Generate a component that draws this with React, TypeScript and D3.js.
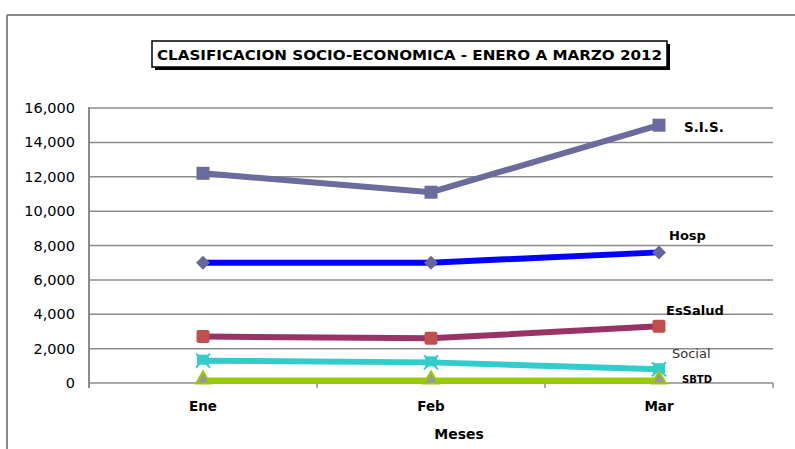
import React from "react";
import * as d3 from "d3";

const months = ["Ene", "Feb", "Mar"];
const sis = [12200, 11100, 15000];
const hosp = [7000, 7000, 7600];
const essalud = [2700, 2600, 3300];
const social = [1300, 1200, 800];
const sbtd = [150, 150, 150];
const yTicks = [0, 2000, 4000, 6000, 8000, 10000, 12000, 14000, 16000];

const W = 795, H = 449;
const left = 89, right = 773, top = 108, bottom = 383;

export default function App() {
  const x = d3.scaleBand().domain(months).range([left, right]);
  const cx = (m: string) => (x(m) as number) + x.bandwidth() / 2;
  const y = d3.scaleLinear().domain([0, 16000]).range([bottom, top]);
  const fmt = d3.format(",");
  const line = d3.line<number>().x((_, i) => cx(months[i])).y((v) => y(v));

  const series = [
    { name: "S.I.S.", data: sis, color: "#6B6B9E", marker: "square", mcolor: "#6B6B9E" },
    { name: "Hosp", data: hosp, color: "#0000FF", marker: "diamond", mcolor: "#66669A" },
    { name: "EsSalud", data: essalud, color: "#993366", marker: "square", mcolor: "#C0504D" },
    { name: "Social", data: social, color: "#33CCCC", marker: "star", mcolor: "#33CCCC" },
    { name: "SBTD", data: sbtd, color: "#99CC00", marker: "triangle", mcolor: "#999999" },
  ];

  const marker = (s: any, v: number, i: number) => {
    const px = cx(months[i]);
    const py = y(v);
    const key = s.name + i;
    if (s.marker === "square")
      return <rect key={key} x={px - 6.5} y={py - 6.5} width={13} height={13} rx={s.name === "EsSalud" ? 2 : 0} fill={s.mcolor} />;
    if (s.marker === "diamond")
      return <path key={key} d={`M${px},${py - 7}L${px + 7},${py}L${px},${py + 7}L${px - 7},${py}Z`} fill={s.mcolor} />;
    if (s.marker === "star")
      return (
        <g key={key}>
          <rect x={px - 6} y={py - 6} width={12} height={10} fill={s.mcolor} />
          <path d={`M${px - 7},${py - 7}L${px + 7},${py + 7}M${px + 7},${py - 7}L${px - 7},${py + 7}`} stroke={s.mcolor} strokeWidth={2} />
        </g>
      );
    return (
      <path key={key} d={`M${px},${py - 9}L${px + 7},${py + 3}L${px - 7},${py + 3}Z`} fill={s.mcolor} stroke="#99CC00" strokeWidth={2} />
    );
  };

  const labels = [
    { text: "S.I.S.", x: 684, y: 132, bold: true, size: 13.5 },
    { text: "Hosp", x: 669, y: 240, bold: true, size: 13 },
    { text: "EsSalud", x: 666, y: 315, bold: true, size: 13 },
    { text: "Social", x: 672, y: 358, bold: false, size: 13 },
    { text: "SBTD", x: 682, y: 383, bold: true, size: 10 },
  ];

  return (
    <svg width={W} height={H} style={{ position: "absolute", left: 0, top: 0, background: "#fff" }}>
      <rect x={0} y={0} width={W} height={H} fill="#fff" />
      <line x1={7} y1={15} x2={W} y2={15} stroke="#888" strokeWidth={2} />
      <line x1={7} y1={15} x2={7} y2={H} stroke="#888" strokeWidth={2} />

      {/* title */}
      <rect x={155} y={44} width={515} height={26} fill="#000" />
      <rect x={152} y={41} width={515} height={26} fill="#fff" stroke="#000" strokeWidth={1.5} />
      <text x={157} y={60} textLength={505} lengthAdjust="spacingAndGlyphs" fontFamily="DejaVu Sans, Verdana" fontWeight="bold" fontSize={14} fill="#000">
        CLASIFICACION SOCIO-ECONOMICA - ENERO A MARZO 2012
      </text>

      {/* grid */}
      {yTicks.map((t) => (
        <g key={t}>
          <line x1={left} x2={right} y1={y(t)} y2={y(t)} stroke="#8c8c8c" strokeWidth={1.5} />
          <text x={75} y={y(t) + 5} textAnchor="end" fontFamily="DejaVu Sans, Verdana" fontSize={14.5} fill="#000">
            {fmt(t)}
          </text>
        </g>
      ))}
      <line x1={left} x2={left} y1={top - 1} y2={bottom + 5} stroke="#8c8c8c" strokeWidth={2} />
      {[1, 2, 3].map((k) => {
        const tx = left + k * x.bandwidth();
        return <line key={k} x1={tx} x2={tx} y1={bottom} y2={bottom + 5} stroke="#8c8c8c" strokeWidth={1.5} />;
      })}

      {months.map((m) => (
        <text key={m} x={cx(m)} y={411} textAnchor="middle" fontFamily="DejaVu Sans, Verdana" fontWeight="bold" fontSize={13.5} fill="#000">
          {m}
        </text>
      ))}
      <text x={459} y={439} textAnchor="middle" fontFamily="DejaVu Sans, Verdana" fontWeight="bold" fontSize={14} fill="#000">
        Meses
      </text>

      {series.map((s) => (
        <path key={s.name} d={line(s.data) as string} fill="none" stroke={s.color} strokeWidth={6} />
      ))}
      {series.map((s) => s.data.map((v, i) => marker(s, v, i)))}

      {labels.map((l) => (
        <text key={l.text} x={l.x} y={l.y} fontFamily="DejaVu Sans, Verdana" fontWeight={l.bold ? "bold" : "normal"} fontSize={l.size} fill={l.bold ? "#000" : "#333"}>
          {l.text}
        </text>
      ))}
    </svg>
  );
}
